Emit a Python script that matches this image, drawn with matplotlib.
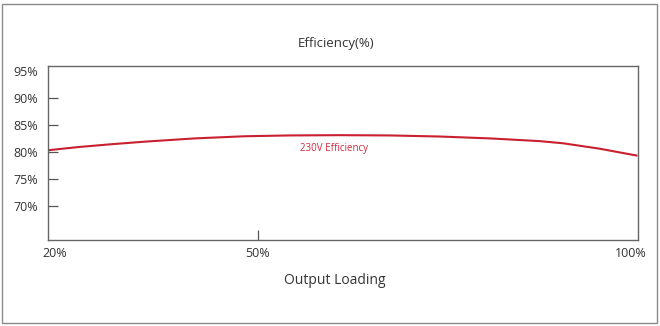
import numpy as np
import matplotlib
matplotlib.use("Agg")
import matplotlib.pyplot as plt
import matplotlib.transforms as mtrans
from matplotlib.patches import Rectangle

plt.rcParams['font.family'] = ['Open Sans', 'DejaVu Sans']

# efficiency curve, 230V input
loading = [20, 24.4, 28.9, 33.9, 41.0, 48.2, 54.2, 60.8, 67.4, 74.0, 80.6, 87.1, 90.2, 95.0, 100]
eff_230v = [80.3, 80.9, 81.4, 81.9, 82.5, 82.9, 83.05, 83.1, 83.05, 82.85, 82.5, 82.0, 81.6, 80.6, 79.3]

xticks = [20, 50, 100]
xticklabels = ['20%', '50%', '100%']
yticks = [70, 75, 80, 85, 90, 95]
yticklabels = ['70%', '75%', '80%', '85%', '90%', '95%']

txt = '#333333'
red = '#c8202f'

# x axis is stretched: 20-50% takes about a third of the width
brk_load = [20, 50, 100]
brk_pos = [0.0, 0.356, 1.0]

def fwd(x):
    return np.interp(x, brk_load, brk_pos)

def inv(p):
    return np.interp(p, brk_pos, brk_load)

fig = plt.figure(figsize=(6.6, 3.26), dpi=100)
fig.patch.set_facecolor('white')
fig.patches.append(Rectangle((2/660, 3/326), 655/660, 319/326, transform=fig.transFigure,
                             fill=False, edgecolor='#8a8a8a', linewidth=1.0))

ax = fig.add_axes([47.5/660, 1-240/326, 590/660, 174/326])
ax.set_xscale('function', functions=(fwd, inv))
ax.plot(loading, eff_230v, color=red, lw=1.5, solid_capstyle='butt', solid_joinstyle='round')
ax.set_xlim(20, 100)
ax.set_ylim(63.7, 95.9)

ax.set_xticks(xticks)
ax.set_xticklabels(xticklabels)
ax.set_yticks(yticks)
ax.set_yticklabels(yticklabels)
ax.xaxis.set_minor_locator(matplotlib.ticker.NullLocator())
ax.tick_params(axis='both', direction='in', length=7.5, width=0.9, color='#555555',
               labelsize=9, labelcolor=txt)
ax.tick_params(axis='y', pad=7)
ax.tick_params(axis='x', pad=5)

# edge labels sit a bit inside the plot area
xt = ax.get_xticklabels()
xt[0].set_transform(xt[0].get_transform() + mtrans.ScaledTranslation(7/100, 0, fig.dpi_scale_trans))
xt[-1].set_transform(xt[-1].get_transform() + mtrans.ScaledTranslation(-7/100, 0, fig.dpi_scale_trans))
# no tick marks where they fall on a spine
xtk = ax.xaxis.get_major_ticks()
xtk[0].tick1line.set_visible(False)
xtk[-1].tick1line.set_visible(False)
ax.yaxis.get_major_ticks()[-1].tick1line.set_visible(False)

for s in ax.spines.values():
    s.set_color('#666666')
    s.set_linewidth(1.0)

ax.text(60, 80.6, '230V Efficiency', color='#d42a3c', fontsize=7, ha='center', va='center')

fig.text(336/660, 1-43/326, 'Efficiency(%)', ha='center', va='center', fontsize=9.5, color=txt)
fig.text(335/660, 1-281/326, 'Output Loading', ha='center', va='center', fontsize=10, color=txt)

fig.savefig('out.png', dpi=100)
